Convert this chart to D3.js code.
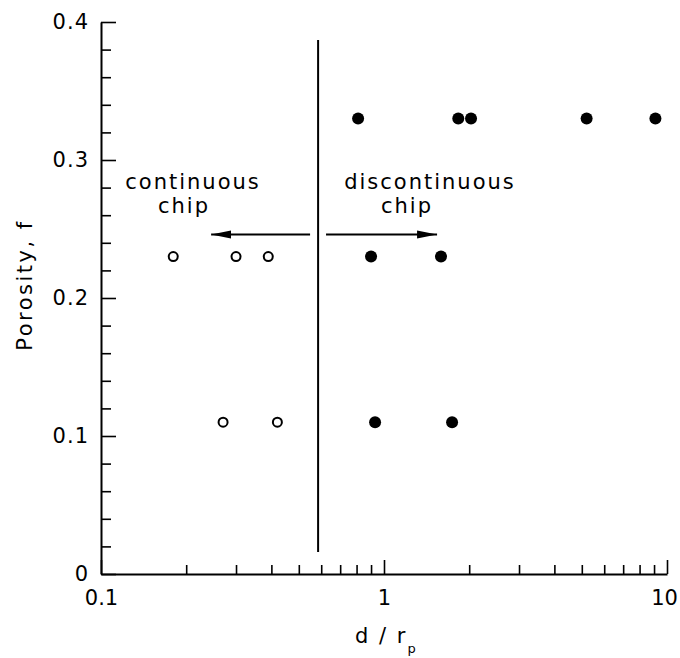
<!DOCTYPE html>
<html>
<head>
<meta charset="utf-8">
<script src="https://cdn.jsdelivr.net/npm/d3@7"></script>
<style>
  body { margin: 0; background: #fff; }
  svg text { font-family: "DejaVu Sans", sans-serif; fill: #000; }
</style>
</head>
<body>
<svg width="680" height="658"></svg>
<script>
// data
var openX = [0.18, 0.30, 0.39, 0.27, 0.42];
var openY = [0.23, 0.23, 0.23, 0.11, 0.11];
var filledX = [0.81, 1.83, 2.03, 5.2, 9.1, 0.90, 1.59, 0.93, 1.74];
var filledY = [0.33, 0.33, 0.33, 0.33, 0.33, 0.23, 0.23, 0.11, 0.11];

var xTickValues = [0.1, 1, 10];
var xTickLabels = ["0.1", "1", "10"];
var xMinor = [0.2, 0.3, 0.4, 0.5, 0.6, 0.7, 0.8, 0.9, 2, 3, 4, 5, 6, 7, 8, 9];
var yTickValues = [0, 0.1, 0.2, 0.3, 0.4];
var yTickLabels = ["0", "0.1", "0.2", "0.3", "0.4"];
var yMinor = [0.02, 0.04, 0.06, 0.08, 0.12, 0.14, 0.16, 0.18, 0.22, 0.24, 0.26, 0.28, 0.32, 0.34, 0.36, 0.38];

// boundary line and the two arrows
var boundaryX = 0.585, boundaryY = [0.016, 0.387];
var arrowY = 0.246;
var leftArrow = [0.548, 0.245];
var rightArrow = [0.624, 1.54];

var svg = d3.select("svg");

var x = d3.scaleLog().domain([0.1, 10]).range([101, 667]);
var y = d3.scaleLinear().domain([0, 0.4]).range([574, 22]);

// arrow head
svg.append("defs").append("marker")
    .attr("id", "head")
    .attr("markerUnits", "userSpaceOnUse")
    .attr("viewBox", "0 -5 20 10")
    .attr("refX", 20).attr("refY", 0)
    .attr("markerWidth", 20).attr("markerHeight", 10)
    .attr("orient", "auto")
  .append("path")
    .attr("d", "M0,-4L20,0L0,4Z")
    .attr("fill", "#000");

// x axis
var xAxis = svg.append("g").attr("transform", "translate(0," + y(0) + ")");
xAxis.call(d3.axisBottom(x).tickValues(xTickValues)
    .tickFormat(function(d, i) { return xTickLabels[i]; })
    .tickSizeInner(-14).tickSizeOuter(0).tickPadding(16));
xAxis.selectAll(".tick text")
    .attr("dx", function(d) { return d === 10 ? -3 : 0; });
xAxis.append("g").call(d3.axisBottom(x).tickValues(xMinor)
    .tickFormat("").tickSizeInner(-9).tickSizeOuter(0))
  .select(".domain").remove();

// y axis
var yAxis = svg.append("g").attr("transform", "translate(" + x(0.1) + ",0)");
yAxis.call(d3.axisLeft(y).tickValues(yTickValues)
    .tickFormat(function(d, i) { return yTickLabels[i]; })
    .tickSizeInner(-15).tickSizeOuter(0).tickPadding(12));
yAxis.append("g").call(d3.axisLeft(y).tickValues(yMinor)
    .tickFormat("").tickSizeInner(-10).tickSizeOuter(0))
  .select(".domain").remove();

svg.selectAll(".domain").attr("stroke-width", 2);
svg.selectAll(".tick line").attr("stroke-width", 1.6);
svg.selectAll(".tick text")
    .attr("font-size", 21)
    .attr("font-family", "DejaVu Sans");
yAxis.selectAll(".tick text").attr("letter-spacing", 1);

// boundary
svg.append("line")
    .attr("x1", x(boundaryX)).attr("x2", x(boundaryX))
    .attr("y1", y(boundaryY[0])).attr("y2", y(boundaryY[1]))
    .attr("stroke", "#000").attr("stroke-width", 2);

[leftArrow, rightArrow].forEach(function(a) {
  svg.append("line")
      .attr("x1", x(a[0])).attr("x2", x(a[1]))
      .attr("y1", y(arrowY)).attr("y2", y(arrowY))
      .attr("stroke", "#000").attr("stroke-width", 2)
      .attr("marker-end", "url(#head)");
});

// region labels
function label(lines, cx) {
  lines.forEach(function(l, i) {
    svg.append("text")
        .attr("x", cx[i]).attr("y", 189 + i * 24)
        .attr("text-anchor", "middle")
        .attr("font-size", 21)
        .attr("letter-spacing", 2)
        .text(l);
  });
}
label(["continuous", "chip"], [193, 184]);
label(["discontinuous", "chip"], [430, 407]);

// points
svg.append("g").selectAll("circle")
    .data(openX.map(function(d, i) { return [d, openY[i]]; }))
    .enter().append("circle")
      .attr("cx", function(d) { return x(d[0]); })
      .attr("cy", function(d) { return y(d[1]); })
      .attr("r", 4.5)
      .attr("fill", "#fff").attr("stroke", "#000").attr("stroke-width", 2);

svg.append("g").selectAll("circle")
    .data(filledX.map(function(d, i) { return [d, filledY[i]]; }))
    .enter().append("circle")
      .attr("cx", function(d) { return x(d[0]); })
      .attr("cy", function(d) { return y(d[1]); })
      .attr("r", 6)
      .attr("fill", "#000");

// axis titles
svg.append("text")
    .attr("transform", "translate(32,285) rotate(-90)")
    .attr("text-anchor", "middle")
    .attr("font-size", 21)
    .attr("letter-spacing", 2.5)
    .text("Porosity, f");

var xt = svg.append("text")
    .attr("x", 355).attr("y", 643)
    .attr("font-size", 21)
    .attr("letter-spacing", 2);
xt.append("tspan").text("d / r");
xt.append("tspan").attr("dy", 10).attr("font-size", 13).text("p");
</script>
</body>
</html>
